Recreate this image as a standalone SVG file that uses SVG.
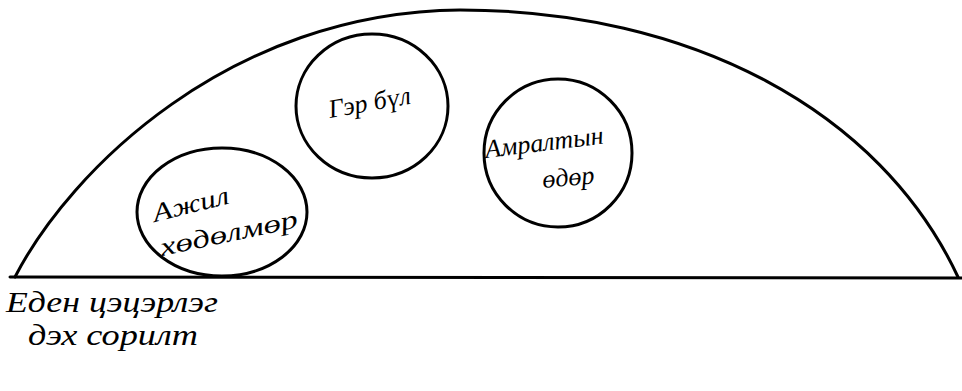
<svg xmlns="http://www.w3.org/2000/svg" width="962" height="391" viewBox="0 0 962 391">
<style>
.ln{fill:none;stroke:#000;stroke-width:3;stroke-linecap:round}
.t{font-family:"Liberation Serif","DejaVu Serif",serif;font-style:italic;font-size:26px;fill:#000}
.c{font-size:29px}
</style>
<rect width="962" height="391" fill="#fff"/>
<g id="dome">
<path class="ln" d="M15,277 C70,170 230,12 460,10 C690,10 880,110 958,277"/>
<path class="ln" d="M10,277 L962,278"/>
</g>
<g id="work">
<ellipse class="ln" cx="222" cy="212" rx="85" ry="64"/>
<text class="t" transform="translate(155,222) rotate(-14)" textLength="78" lengthAdjust="spacingAndGlyphs">Ажил</text>
<text class="t" transform="translate(162,256) rotate(-12)" textLength="140" lengthAdjust="spacingAndGlyphs">хөдөлмөр</text>
</g>
<g id="family">
<ellipse class="ln" cx="372" cy="106" rx="76" ry="72"/>
<text class="t" transform="translate(330,118) rotate(-10)">Гэр бүл</text>
</g>
<g id="weekend">
<ellipse class="ln" cx="558" cy="153" rx="74" ry="74"/>
<text class="t" transform="translate(486,158) rotate(-7)">Амралтын</text>
<text class="t" transform="translate(543,188) rotate(-5)">өдөр</text>
</g>
<g id="caption">
<text class="t c" x="6" y="312" textLength="212" lengthAdjust="spacingAndGlyphs">Еден цэцэрлэг</text>
<text class="t c" x="28" y="345" textLength="170" lengthAdjust="spacingAndGlyphs">дэх сорилт</text>
</g>
</svg>
